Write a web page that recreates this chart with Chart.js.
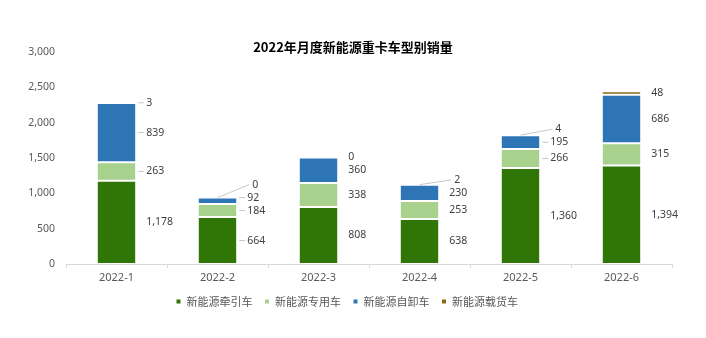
<!DOCTYPE html>
<html>
<head>
<meta charset="utf-8">
<script src="https://cdn.jsdelivr.net/npm/chart.js@4"></script>
<style>
  html, body { margin: 0; padding: 0; background: #fff; }
  #wrap { width: 706px; height: 338px; position: relative; }
</style>
</head>
<body>
<div id="wrap"><canvas id="chart"></canvas></div>
<script>
// data
const months = ['2022-1', '2022-2', '2022-3', '2022-4', '2022-5', '2022-6'];
const tractor = [1178, 664, 808, 638, 1360, 1394];
const special = [263, 184, 338, 253, 266, 315];
const dumper = [839, 92, 360, 230, 195, 686];
const cargo = [3, 0, 0, 2, 4, 48];
const seriesNames = ['新能源牵引车', '新能源专用车', '新能源自卸车', '新能源载货车'];
const yTicks = [0, 500, 1000, 1500, 2000, 2500, 3000];
const titleText = '2022年月度新能源重卡车型别销量';

const colors = ['#2f7606', '#a9d18e', '#2e75b6', '#8a6a12'];
const FONT = "'Noto Sans', 'Noto Sans CJK SC', sans-serif";

// title drawn over the whole canvas width (Excel centres it on the chart, not the plot)
const centredTitle = {
  id: 'centredTitle',
  afterDraw(chart) {
    const ctx = chart.ctx;
    ctx.save();
    ctx.font = "bold 13px 'Noto Sans CJK SC', sans-serif";
    ctx.fillStyle = '#000';
    ctx.textAlign = 'center';
    ctx.textBaseline = 'middle';
    ctx.fillText(titleText, chart.width / 2, 47);
    ctx.restore();
  }
};

// labels to the right of each segment, pushed up when they collide
const sideLabels = {
  id: 'sideLabels',
  afterDatasetsDraw(chart, args, opts) {
    const ctx = chart.ctx;
    const n = chart.data.labels.length;
    ctx.save();
    ctx.font = '10.5px ' + FONT;
    ctx.fillStyle = '#404040';
    ctx.textBaseline = 'middle';
    for (let i = 0; i < n; i++) {
      let prevY = Infinity;
      chart.data.datasets.forEach((ds, d) => {
        const bar = chart.getDatasetMeta(d).data[i];
        const right = bar.x + bar.width / 2;
        const mid = (bar.y + bar.base) / 2;
        const y = Math.min(mid, prevY - 13);
        prevY = y;
        const key = i + '-' + d;
        const txt = ds.data[i].toLocaleString('en-US');
        const moved = mid - y > 4;
        let lx = right + 10;
        ctx.strokeStyle = '#c8c8c8';
        ctx.lineWidth = 1;
        if (moved && !opts.noLeader.includes(key)) {
          lx = right + (d === 3 ? 15 : 10);
          ctx.beginPath();
          ctx.moveTo(bar.x, mid);
          ctx.lineTo(lx - 3, y);
          ctx.stroke();
        } else if (opts.dash.includes(key)) {
          ctx.beginPath();
          ctx.moveTo(right + 2, y);
          ctx.lineTo(lx - 2, y);
          ctx.stroke();
        }
        ctx.fillText(txt, lx, y);
      });
    }
    ctx.restore();
  }
};

const seriesData = [tractor, special, dumper, cargo];

new Chart(document.getElementById('chart'), {
  type: 'bar',
  data: {
    labels: months,
    datasets: seriesData.map((vals, k) => ({
      label: seriesNames[k],
      data: vals,
      backgroundColor: colors[k],
      borderColor: '#ffffff',
      borderWidth: 1,
      borderSkipped: false,
      barPercentage: 0.39,
      categoryPercentage: 1
    }))
  },
  options: {
    responsive: true,
    maintainAspectRatio: false,
    animation: false,
    layout: { padding: { left: 22, right: 34, top: 52, bottom: 21 } },
    scales: {
      x: {
        stacked: true,
        afterFit(axis) { axis.height = 20; },
        grid: { display: true, drawOnChartArea: false, tickLength: 4, color: '#d9d9d9' },
        border: { color: '#d9d9d9' },
        ticks: { color: '#595959', font: { size: 11, family: FONT }, padding: 3 }
      },
      y: {
        stacked: true,
        min: 0,
        max: 3000,
        afterBuildTicks(axis) { axis.ticks = yTicks.map(v => ({ value: v })); },
        afterFit(axis) { axis.width = 44; },
        grid: { display: false },
        border: { display: false },
        ticks: {
          color: '#595959',
          font: { size: 10.5, family: FONT },
          padding: 3,
          callback: v => v.toLocaleString('en-US')
        }
      }
    },
    plugins: {
      title: { display: false },
      legend: {
        position: 'bottom',
        labels: {
          color: '#595959',
          font: { size: 11, family: "'Noto Sans CJK SC', sans-serif" },
          boxWidth: 5,
          boxHeight: 5,
          padding: 12
        }
      },
      tooltip: { enabled: false },
      sideLabels: {
        dash: ['0-1', '0-2', '0-3', '1-0', '1-1', '1-2', '4-1', '4-2'],
        noLeader: ['2-3']
      }
    }
  },
  plugins: [sideLabels, centredTitle]
});
</script>
</body>
</html>
